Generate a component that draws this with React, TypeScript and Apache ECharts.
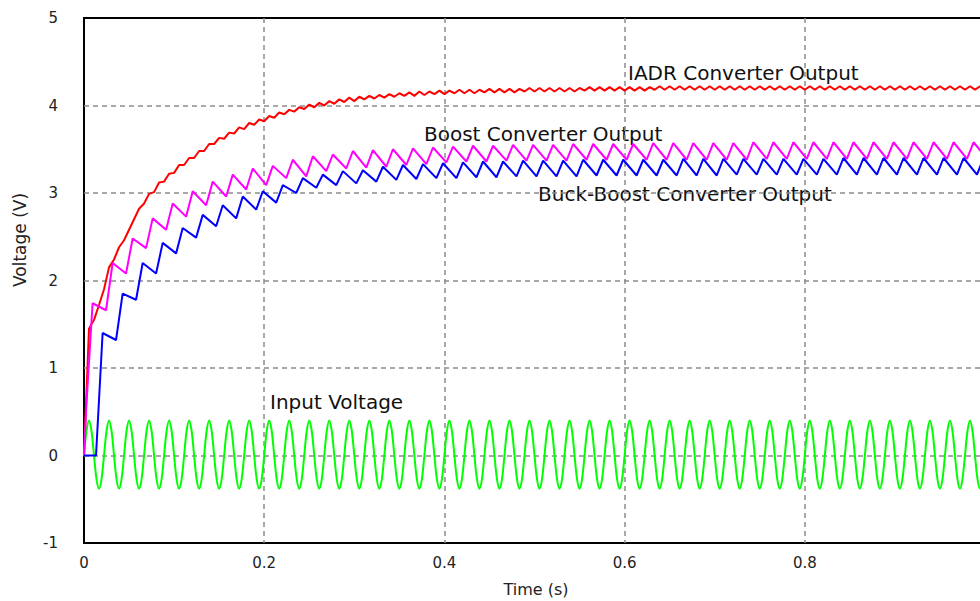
import React, { useEffect, useRef } from "react";
import * as echarts from "echarts";

// ---- data ----
const X_TICK_INTERVAL = 0.2;
const Y_MIN = -1;
const Y_MAX = 5;
const PERIOD = 1 / 45; // input period in seconds (one cycle every 20 px)
const INPUT_STEP = PERIOD / 8; // input sampled 8 times per cycle
const IADR_STEP = PERIOD / 4; // IADR output sampled 4 times per cycle

const INPUT_VOLTAGE = [
  0, 0.28, 0.4, 0.28, 0, -0.27, -0.38, -0.27,
  0, 0.28, 0.4, 0.28, 0, -0.27, -0.38, -0.27,
  0, 0.28, 0.4, 0.28, 0, -0.27, -0.38, -0.27,
  0, 0.28, 0.4, 0.28, 0, -0.27, -0.38, -0.27,
  0, 0.28, 0.4, 0.28, 0, -0.27, -0.38, -0.27,
  0, 0.28, 0.4, 0.28, 0, -0.27, -0.38, -0.27,
  0, 0.28, 0.4, 0.28, 0, -0.27, -0.38, -0.27,
  0, 0.28, 0.4, 0.28, 0, -0.27, -0.38, -0.27,
  0, 0.28, 0.4, 0.28, 0, -0.27, -0.38, -0.27,
  0, 0.28, 0.4, 0.28, 0, -0.27, -0.38, -0.27,
  0, 0.28, 0.4, 0.28, 0, -0.27, -0.38, -0.27,
  0, 0.28, 0.4, 0.28, 0, -0.27, -0.38, -0.27,
  0, 0.28, 0.4, 0.28, 0, -0.27, -0.38, -0.27,
  0, 0.28, 0.4, 0.28, 0, -0.27, -0.38, -0.27,
  0, 0.28, 0.4, 0.28, 0, -0.27, -0.38, -0.27,
  0, 0.28, 0.4, 0.28, 0, -0.27, -0.38, -0.27,
  0, 0.28, 0.4, 0.28, 0, -0.27, -0.38, -0.27,
  0, 0.28, 0.4, 0.28, 0, -0.27, -0.38, -0.27,
  0, 0.28, 0.4, 0.28, 0, -0.27, -0.38, -0.27,
  0, 0.28, 0.4, 0.28, 0, -0.27, -0.38, -0.27,
  0, 0.28, 0.4, 0.28, 0, -0.27, -0.38, -0.27,
  0, 0.28, 0.4, 0.28, 0, -0.27, -0.38, -0.27,
  0, 0.28, 0.4, 0.28, 0, -0.27, -0.38, -0.27,
  0, 0.28, 0.4, 0.28, 0, -0.27, -0.38, -0.27,
  0, 0.28, 0.4, 0.28, 0, -0.27, -0.38, -0.27,
  0, 0.28, 0.4, 0.28, 0, -0.27, -0.38, -0.27,
  0, 0.28, 0.4, 0.28, 0, -0.27, -0.38, -0.27,
  0, 0.28, 0.4, 0.28, 0, -0.27, -0.38, -0.27,
  0, 0.28, 0.4, 0.28, 0, -0.27, -0.38, -0.27,
  0, 0.28, 0.4, 0.28, 0, -0.27, -0.38, -0.27,
  0, 0.28, 0.4, 0.28, 0, -0.27, -0.38, -0.27,
  0, 0.28, 0.4, 0.28, 0, -0.27, -0.38, -0.27,
  0, 0.28, 0.4, 0.28, 0, -0.27, -0.38, -0.27,
  0, 0.28, 0.4, 0.28, 0, -0.27, -0.38, -0.27,
  0, 0.28, 0.4, 0.28, 0, -0.27, -0.38, -0.27,
  0, 0.28, 0.4, 0.28, 0, -0.27, -0.38, -0.27,
  0, 0.28, 0.4, 0.28, 0, -0.27, -0.38, -0.27,
  0, 0.28, 0.4, 0.28, 0, -0.27, -0.38, -0.27,
  0, 0.28, 0.4, 0.28, 0, -0.27, -0.38, -0.27,
  0, 0.28, 0.4, 0.28, 0, -0.27, -0.38, -0.27,
  0, 0.28, 0.4, 0.28, 0, -0.27, -0.38, -0.27,
  0, 0.28, 0.4, 0.28, 0, -0.27, -0.38, -0.27,
  0, 0.28, 0.4, 0.28, 0, -0.27, -0.38, -0.27,
  0, 0.28, 0.4, 0.28, 0, -0.27, -0.38, -0.27,
  0, 0.28, 0.4, 0.28, 0, -0.27, -0.38, -0.27,
  0,
];

const IADR_OUTPUT = [
  0, 1.45, 1.55, 1.72, 1.9, 2.15, 2.24, 2.38, 2.46, 2.58, 2.7, 2.82,
  2.88, 2.99, 3.01, 3.12, 3.13, 3.22, 3.23, 3.32, 3.32, 3.4, 3.4, 3.48,
  3.48, 3.56, 3.56, 3.63, 3.62, 3.69, 3.68, 3.75, 3.73, 3.8, 3.78, 3.84,
  3.82, 3.88, 3.86, 3.92, 3.9, 3.95, 3.93, 3.98, 3.96, 4.01, 3.98, 4.03,
  4.0, 4.05, 4.02, 4.07, 4.04, 4.09, 4.05, 4.1, 4.07, 4.11, 4.08, 4.12,
  4.09, 4.13, 4.1, 4.14, 4.11, 4.15, 4.11, 4.16, 4.12, 4.16, 4.13, 4.17,
  4.13, 4.17, 4.14, 4.18, 4.14, 4.18, 4.14, 4.18, 4.15, 4.19, 4.15, 4.19,
  4.15, 4.19, 4.15, 4.19, 4.16, 4.2, 4.16, 4.2, 4.16, 4.2, 4.16, 4.2,
  4.16, 4.2, 4.16, 4.2, 4.17, 4.21, 4.17, 4.21, 4.17, 4.21, 4.17, 4.21,
  4.17, 4.21, 4.17, 4.21, 4.17, 4.21, 4.18, 4.22, 4.18, 4.22, 4.18, 4.22,
  4.18, 4.22, 4.18, 4.22, 4.18, 4.22, 4.18, 4.22, 4.18, 4.22, 4.18, 4.22,
  4.18, 4.22, 4.18, 4.22, 4.18, 4.22, 4.18, 4.22, 4.18, 4.22, 4.18, 4.22,
  4.18, 4.22, 4.18, 4.22, 4.18, 4.22, 4.18, 4.22, 4.18, 4.22, 4.18, 4.22,
  4.18, 4.22, 4.18, 4.22, 4.18, 4.22, 4.18, 4.22, 4.18, 4.22, 4.18, 4.22,
  4.18, 4.22, 4.18, 4.22, 4.18, 4.22, 4.18, 4.22, 4.18, 4.22, 4.18, 4.22,
  4.18,
];

// Boost output: per input cycle, trough before charging and peak after it
const BOOST_PHASE = [0.1, 0.43];
const BOOST_TROUGHS = [
  0.5, 1.66, 2.08, 2.37, 2.58, 2.73, 2.86, 2.96, 3.04, 3.09,
  3.17, 3.19, 3.25, 3.28, 3.29, 3.3, 3.32, 3.33, 3.35, 3.36,
  3.36, 3.37, 3.37, 3.37, 3.37, 3.38, 3.38, 3.38, 3.38, 3.38,
  3.38, 3.38, 3.38, 3.38, 3.39, 3.39, 3.39, 3.39, 3.39, 3.39,
  3.39, 3.39, 3.39, 3.39, 3.39, 3.39,
];
const BOOST_PEAKS = [
  1.74, 2.2, 2.48, 2.71, 2.88, 3.02, 3.13, 3.21, 3.28, 3.31,
  3.38, 3.42, 3.44, 3.48, 3.49, 3.5, 3.51, 3.52, 3.53, 3.54,
  3.54, 3.55, 3.55, 3.55, 3.56, 3.56, 3.56, 3.56, 3.57, 3.57,
  3.57, 3.57, 3.57, 3.58, 3.58, 3.58, 3.58, 3.58, 3.58, 3.58,
  3.58, 3.58, 3.58, 3.58, 3.58,
];

// Buck-Boost output
const BUCKBOOST_PHASE = [0.6, 0.93];
const BUCKBOOST_TROUGHS = [
  0, 1.32, 1.78, 2.08, 2.31, 2.49, 2.62, 2.71, 2.81, 2.89,
  3.0, 3.06, 3.09, 3.11, 3.13, 3.15, 3.16, 3.17, 3.17, 3.18,
  3.18, 3.19, 3.19, 3.19, 3.19, 3.2, 3.2, 3.2, 3.2, 3.2,
  3.2, 3.2, 3.21, 3.21, 3.21, 3.21, 3.21, 3.21, 3.21, 3.21,
  3.21, 3.21, 3.21, 3.21, 3.21, 3.21,
];
const BUCKBOOST_PEAKS = [
  1.4, 1.85, 2.2, 2.43, 2.6, 2.75, 2.86, 2.96, 3.02, 3.09,
  3.17, 3.21, 3.25, 3.26, 3.3, 3.32, 3.33, 3.34, 3.35, 3.36,
  3.36, 3.37, 3.37, 3.37, 3.38, 3.38, 3.38, 3.38, 3.38, 3.39,
  3.39, 3.39, 3.39, 3.39, 3.39, 3.39, 3.39, 3.4, 3.4, 3.4,
  3.4, 3.4, 3.4, 3.4, 3.4,
];

const SERIES_NAMES = [
  "Input Voltage",
  "IADR Converter Output",
  "Boost Converter Output",
  "Buck-Boost Converter Output",
];
const X_NAME = "Time (s)";
const Y_NAME = "Voltage (V)";

function rippleData(troughs: number[], peaks: number[], phase: number[]) {
  const d: number[][] = [[0, 0]];
  troughs.forEach((tv, k) => {
    d.push([(k + phase[0]) * PERIOD, tv]);
    if (k < peaks.length) d.push([(k + phase[1]) * PERIOD, peaks[k]]);
  });
  return d;
}

export default function App() {
  const ref = useRef<HTMLDivElement>(null);

  useEffect(() => {
    if (!ref.current) return;
    const chart = echarts.init(ref.current, undefined, { renderer: "svg" });

    const inputData = INPUT_VOLTAGE.map((v, i) => [i * INPUT_STEP, v]);
    const iadrData = IADR_OUTPUT.map((v, j) => [j * IADR_STEP, v]);
    const boostData = rippleData(BOOST_TROUGHS, BOOST_PEAKS, BOOST_PHASE);
    const bbData = rippleData(BUCKBOOST_TROUGHS, BUCKBOOST_PEAKS, BUCKBOOST_PHASE);

    const gridLine = {
      show: true,
      showMinLine: false,
      showMaxLine: false,
      lineStyle: { color: "#8c8c8c", width: 1.5, type: [5, 4] },
    };
    const tickFont = {
      color: "#222",
      fontSize: 15,
      fontFamily: "DejaVu Sans",
    };
    const annFont = '20px "DejaVu Sans"';

    const lineSeries = (name: string, data: number[][], color: string, smooth: number | boolean) => ({
      name,
      type: "line",
      data,
      showSymbol: false,
      symbol: "none",
      smooth,
      lineStyle: { color, width: 2 },
      itemStyle: { color },
      emphasis: { disabled: true },
    });

    chart.setOption({
      animation: false,
      backgroundColor: "#fff",
      grid: {
        left: 84,
        top: 18,
        width: 901,
        height: 525,
        show: true,
        borderColor: "#000",
        borderWidth: 2,
        backgroundColor: "transparent",
      },
      xAxis: {
        type: "value",
        min: 0,
        max: 1,
        interval: X_TICK_INTERVAL,
        axisLine: { show: false },
        axisTick: { show: false },
        axisLabel: { ...tickFont, margin: 12 },
        splitLine: gridLine,
      },
      yAxis: {
        type: "value",
        min: Y_MIN,
        max: Y_MAX,
        interval: 1,
        axisLine: { show: false },
        axisTick: { show: false },
        axisLabel: { ...tickFont, margin: 26 },
        splitLine: gridLine,
      },
      series: [
        lineSeries(SERIES_NAMES[0], inputData, "#00ff00", 0.35),
        lineSeries(SERIES_NAMES[1], iadrData, "#ff0000", false),
        lineSeries(SERIES_NAMES[2], boostData, "#ff00ff", false),
        lineSeries(SERIES_NAMES[3], bbData, "#0000ff", false),
      ],
      graphic: [
        {
          type: "text",
          x: 628,
          y: 73,
          style: { text: SERIES_NAMES[1], font: annFont, fill: "#111", verticalAlign: "middle" },
        },
        {
          type: "text",
          x: 424,
          y: 134,
          style: { text: SERIES_NAMES[2], font: annFont, fill: "#111", verticalAlign: "middle" },
        },
        {
          type: "text",
          x: 538,
          y: 194,
          style: { text: SERIES_NAMES[3], font: annFont, fill: "#111", verticalAlign: "middle" },
        },
        {
          type: "text",
          x: 270,
          y: 402,
          style: { text: SERIES_NAMES[0], font: annFont, fill: "#111", verticalAlign: "middle" },
        },
        {
          type: "text",
          x: 536,
          y: 589,
          style: {
            text: X_NAME,
            font: '16px "DejaVu Sans"',
            fill: "#222",
            align: "center",
            verticalAlign: "middle",
          },
        },
        {
          type: "text",
          x: 20,
          y: 240,
          rotation: Math.PI / 2,
          style: {
            text: Y_NAME,
            font: '17px "DejaVu Sans"',
            fill: "#222",
            align: "center",
            verticalAlign: "middle",
          },
        },
      ],
    });

    return () => chart.dispose();
  }, []);

  return (
    <div
      style={{
        position: "fixed",
        left: 0,
        top: 0,
        width: 980,
        height: 601,
        overflow: "hidden",
        background: "#fff",
      }}
    >
      <div ref={ref} style={{ width: 1010, height: 601 }} />
    </div>
  );
}
